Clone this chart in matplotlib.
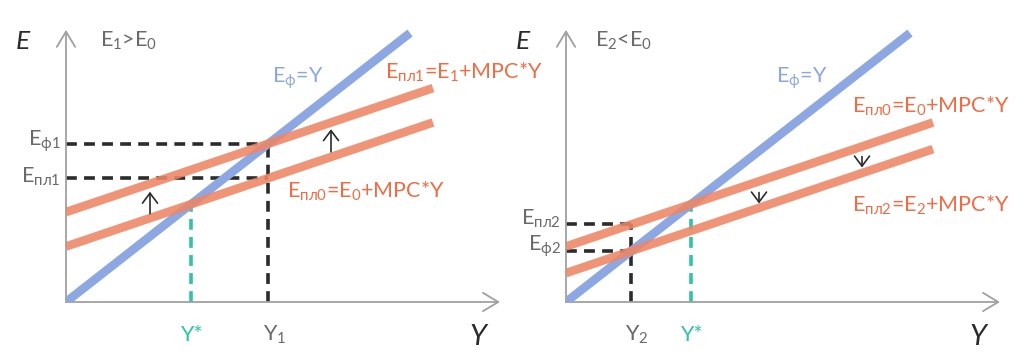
import matplotlib
matplotlib.use("Agg")
import matplotlib.pyplot as plt

plt.rcParams['font.family'] = ['Lato', 'DejaVu Sans']
plt.rcParams['mathtext.fontset'] = 'custom'
plt.rcParams['mathtext.rm'] = 'Lato'
plt.rcParams['mathtext.it'] = 'Lato:italic'

# model values (E units = Y units)
mpc = 0.432
e0 = 71      # intercept of E_pl0
e1 = 115     # intercept of E_pl1 (left, E1>E0)
e2 = 37      # intercept of E_pl2 (right, E2<E0)
y_line_end = 367
y_blue_end = 344

# arrows showing the shift: (Y, E from, E to)
shift_left = [(84, 113, 141), (265, 192, 221)]
shift_right = [(296, 186, 172), (193, 140, 126)]

BLUE = '#8DA7E3'
ORANGE = '#EE8564'
ORANGE_TXT = '#F26B43'
TEAL = '#2FC4A6'
GRAY = '#6A6A6A'
AXIS = '#A0A0A0'
DARK = '#2B2B2B'
FS = 15.5

fig = plt.figure(figsize=(10.24, 3.58), dpi=100)


def base(ax):
    ax.set_xlim(0, 440)
    ax.set_ylim(0, 300 / 0.782)
    ax.axis('off')
    ax.annotate('', xy=(0, 348), xytext=(0, 0),
                arrowprops=dict(arrowstyle='->,head_length=0.5,head_width=0.3', color=AXIS, lw=1.3,
                                mutation_scale=22, shrinkA=0, shrinkB=0))
    ax.annotate('', xy=(434, 0), xytext=(0, 0),
                arrowprops=dict(arrowstyle='->,head_length=0.5,head_width=0.3', color=AXIS, lw=1.3,
                                mutation_scale=22, shrinkA=0, shrinkB=0))
    ax.text(-43, 323, 'E', fontsize=19, style='italic', color=DARK, ha='center', va='baseline')
    ax.text(412, -55, 'Y', fontsize=21, style='italic', color=DARK, ha='center', va='baseline')


def plan_line(ax, e):
    ax.plot([0, y_line_end], [e, e + mpc * y_line_end], color=ORANGE, lw=6.2,
            alpha=0.88, solid_capstyle='butt', zorder=4)


def dashed(ax, x, y, color):
    ax.plot(x, y, color=color, lw=2.6, dashes=(3, 2), zorder=2)


def shift_arrow(ax, y, a, b):
    ax.annotate('', xy=(y, b), xytext=(y, a),
                arrowprops=dict(arrowstyle='->,head_length=0.6,head_width=0.45', color=DARK, lw=1.2,
                                mutation_scale=12, shrinkA=0, shrinkB=0), zorder=5)


# ---------- left panel: E1 > E0 ----------
ax = fig.add_axes([66 / 1024, 56 / 358, 440 / 1024, 300 / 358])
base(ax)
y_star = e0 / (1 - mpc)
y1 = e1 / (1 - mpc)
e_pl1 = e0 + mpc * y1

dashed(ax, [0, y1], [y1, y1], DARK)
dashed(ax, [0, y1], [e_pl1, e_pl1], DARK)
dashed(ax, [y1, y1], [0, y1], DARK)
dashed(ax, [y_star, y_star], [0, y_star], TEAL)

ax.plot([0, y_blue_end], [0, y_blue_end], color=BLUE, lw=6.2, solid_capstyle='butt', zorder=3)
plan_line(ax, e1)
plan_line(ax, e0)
for s in shift_left:
    shift_arrow(ax, *s)

ax.text(34, 326, r'E$_1$>E$_0$', fontsize=FS, color=GRAY, va='baseline')
ax.text(206, 281, r'E$_{\mathrm{ф}}$=Y', fontsize=FS, color=BLUE, va='baseline')
ax.text(319, 286, r'E$_{\mathrm{пл1}}$=E$_1$+MPC*Y', fontsize=FS, color=ORANGE_TXT, va='baseline')
ax.text(221, 133, r'E$_{\mathrm{пл0}}$=E$_0$+MPC*Y', fontsize=FS, color=ORANGE_TXT, va='baseline')
ax.text(-5, y1 - 3, r'E$_{\mathrm{ф1}}$', fontsize=FS, color=GRAY, ha='right', va='baseline')
ax.text(-5, e_pl1 - 6, r'E$_{\mathrm{пл1}}$', fontsize=FS, color=GRAY, ha='right', va='baseline')
ax.text(y_star, -50, 'Y*', fontsize=FS, color=TEAL, ha='center', va='baseline')
ax.text(y1 - 5, -50, r'Y$_1$', fontsize=FS, color=GRAY, ha='left', va='baseline')

# ---------- right panel: E2 < E0 ----------
ax = fig.add_axes([566 / 1024, 56 / 358, 440 / 1024, 300 / 358])
base(ax)
y2 = e2 / (1 - mpc)
e_pl2 = e0 + mpc * y2

dashed(ax, [0, y2], [e_pl2, e_pl2], DARK)
dashed(ax, [0, y2], [y2, y2], DARK)
dashed(ax, [y2, y2], [0, e_pl2], DARK)
dashed(ax, [y_star, y_star], [0, y_star], TEAL)

ax.plot([0, y_blue_end], [0, y_blue_end], color=BLUE, lw=6.2, solid_capstyle='butt', zorder=3)
plan_line(ax, e0)
plan_line(ax, e2)
for s in shift_right:
    shift_arrow(ax, *s)

ax.text(29, 326, r'E$_2$<E$_0$', fontsize=FS, color=GRAY, va='baseline')
ax.text(210, 281, r'E$_{\mathrm{ф}}$=Y', fontsize=FS, color=BLUE, va='baseline')
ax.text(286, 242, r'E$_{\mathrm{пл0}}$=E$_0$+MPC*Y', fontsize=FS, color=ORANGE_TXT, va='baseline')
ax.text(286, 115, r'E$_{\mathrm{пл2}}$=E$_2$+MPC*Y', fontsize=FS, color=ORANGE_TXT, va='baseline')
ax.text(-5, e_pl2, r'E$_{\mathrm{пл2}}$', fontsize=FS, color=GRAY, ha='right', va='baseline')
ax.text(-5, y2, r'E$_{\mathrm{ф2}}$', fontsize=FS, color=GRAY, ha='right', va='baseline')
ax.text(y_star, -50, 'Y*', fontsize=FS, color=TEAL, ha='center', va='baseline')
ax.text(y2 - 6, -50, r'Y$_2$', fontsize=FS, color=GRAY, ha='left', va='baseline')

fig.savefig('out.png', dpi=100, facecolor='white')
